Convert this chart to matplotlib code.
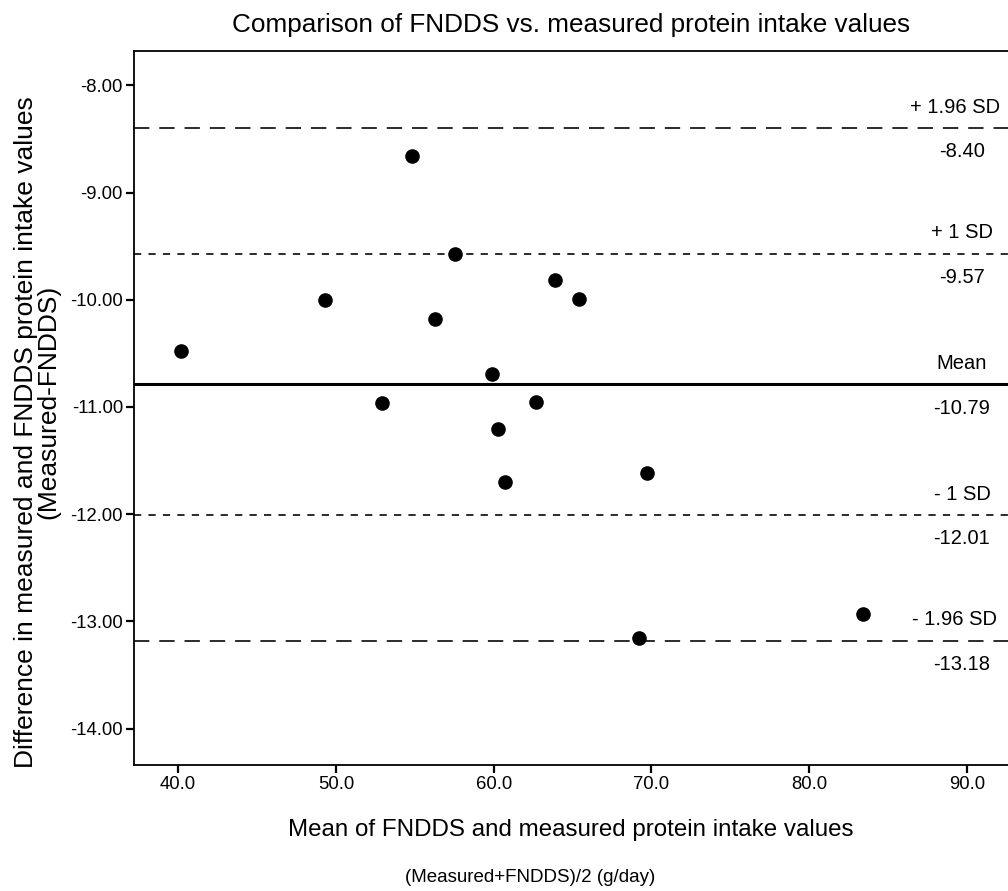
import matplotlib
matplotlib.use("Agg")
import matplotlib.pyplot as plt

plt.rcParams['font.family'] = ['Liberation Sans', 'DejaVu Sans']

# Bland-Altman data
avg_intake = [40.2, 49.3, 52.9, 54.8, 56.3, 57.55, 59.9, 60.3, 60.7, 62.7, 63.9, 65.4, 69.2, 69.7, 83.4]
diff_intake = [-10.48, -10.00, -10.96, -8.66, -10.18, -9.57, -10.69, -11.21, -11.70, -10.95, -9.82, -9.99, -13.16, -11.62, -12.93]

ref_values = [-8.40, -9.57, -10.79, -12.01, -13.18]
ref_names = ['+ 1.96 SD', '+ 1 SD', 'Mean', '- 1 SD', '- 1.96 SD']
ref_styles = [(0, (8.5, 5.5)), (0, (4, 4)), '-', (0, (4, 4)), (0, (8.5, 5.5))]
ref_widths = [1.3, 1.3, 2.2, 1.3, 1.3]

x_ticks = [40, 50, 60, 70, 80, 90]
y_ticks = [-8, -9, -10, -11, -12, -13, -14]

W, H = 1008, 891
fig = plt.figure(figsize=(W / 100, H / 100), dpi=100)
ax = fig.add_axes([134 / W, 1 - 765 / H, 1 - 134 / W, (765 - 51) / H])

ax.scatter(avg_intake, diff_intake, s=90, color='black', zorder=3)

# reference lines with their labels near the right edge
for val, name, ls, lw in zip(ref_values, ref_names, ref_styles, ref_widths):
    ax.axhline(val, color='#1a1a1a' if lw < 2 else 'black', linestyle=ls, linewidth=lw)
    name_px = 955 if '1.96' in name else 962
    ax.annotate(name, xy=((name_px - 134) / (W - 134), val), xycoords=('axes fraction', 'data'),
                xytext=(0, 15), textcoords='offset points', ha='center', va='center', fontsize=14.5)
    ax.annotate('%.2f' % val, xy=((962 - 134) / (W - 134), val), xycoords=('axes fraction', 'data'),
                xytext=(0, -17), textcoords='offset points', ha='center', va='center', fontsize=14.5)

ax.set_xlim(37.2, 92.6)
ax.set_ylim(-14.34, -7.68)
ax.set_xticks(x_ticks)
ax.set_xticklabels(['%.1f' % t for t in x_ticks])
ax.set_yticks(y_ticks)
ax.set_yticklabels(['%.2f' % t for t in y_ticks])
ax.tick_params(labelsize=13.3, length=6, width=1.6, direction='out', pad=2)
ax.spines['right'].set_visible(False)
for s in ['left', 'bottom', 'top']:
    ax.spines[s].set_linewidth(1.3)

fig.text(571 / W, 1 - 25 / H, 'Comparison of FNDDS vs. measured protein intake values',
         ha='center', va='center', fontsize=18.8)
fig.text(571 / W, 1 - 830 / H, 'Mean of FNDDS and measured protein intake values',
         ha='center', va='center', fontsize=17.4)
fig.text(530 / W, 1 - 878 / H, '(Measured+FNDDS)/2 (g/day)',
         ha='center', va='center', fontsize=13.5)
fig.text(26 / W, 1 - 432 / H, 'Difference in measured and FNDDS protein intake values',
         ha='center', va='center', rotation=90, fontsize=19)
fig.text(48 / W, 1 - 402 / H, '(Measured-FNDDS)',
         ha='center', va='center', rotation=90, fontsize=19)

fig.savefig('out.png', dpi=100)
